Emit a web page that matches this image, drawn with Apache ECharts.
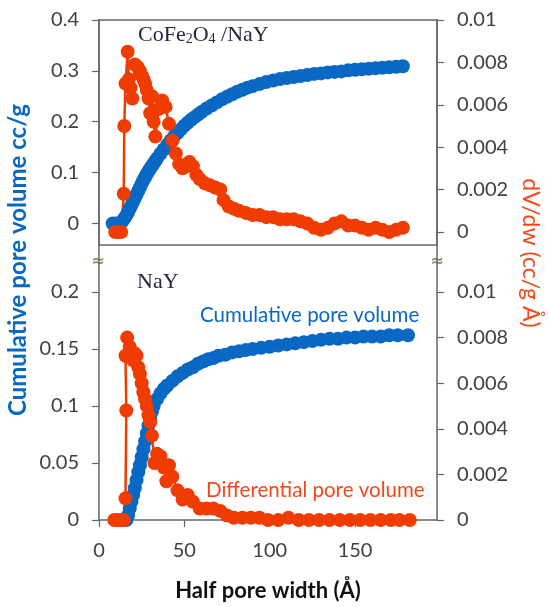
<!DOCTYPE html>
<html>
<head>
<meta charset="utf-8">
<script src="https://cdn.jsdelivr.net/npm/echarts@6/dist/echarts.min.js"></script>
<style>
html,body{margin:0;padding:0;background:#fff;}
#chart{width:549px;height:607px;}
</style>
</head>
<body>
<div id="chart"></div>
<script>
// ---------- Data ----------
// Top panel: CoFe2O4/NaY
var topCumWidth = [8, 10, 12, 13, 14, 15, 16, 17, 18, 19, 20, 21, 22, 23, 24, 25, 26, 27, 28, 29, 30, 31, 32, 33, 34, 36, 38, 40, 42, 44, 46, 48, 50, 52, 54, 56, 58, 60, 63, 66, 69, 72, 75, 78, 81, 84, 87, 90, 94, 98, 102, 106, 110, 114, 118, 122, 126, 130, 134, 138, 142, 146, 150, 154, 158, 162, 166, 170, 174, 178];
var topCumVolume = [0, 0, 0, 0.002, 0.006, 0.011, 0.016, 0.022, 0.029, 0.036, 0.043, 0.05, 0.057, 0.064, 0.071, 0.078, 0.085, 0.091, 0.097, 0.103, 0.108, 0.113, 0.118, 0.123, 0.128, 0.137, 0.146, 0.155, 0.163, 0.171, 0.178, 0.185, 0.192, 0.198, 0.204, 0.209, 0.214, 0.219, 0.226, 0.232, 0.238, 0.244, 0.249, 0.254, 0.259, 0.263, 0.267, 0.27, 0.274, 0.278, 0.281, 0.284, 0.286, 0.288, 0.29, 0.292, 0.294, 0.295, 0.297, 0.298, 0.299, 0.301, 0.302, 0.303, 0.304, 0.305, 0.306, 0.307, 0.308, 0.309];
var topDiffWidth = [9.5, 11, 13, 14.5, 14.8, 15.5, 16.8, 17.5, 18.5, 19.5, 21, 22.5, 24, 25, 26, 27, 28, 29, 30, 31, 32, 33, 35, 37, 39, 41, 43, 45, 47, 49, 51, 53, 55, 57, 59, 62, 65, 68, 71, 73, 76, 79, 82, 86, 90, 94, 98, 102, 106, 110, 114, 118, 122, 126, 130, 134, 138, 142, 146, 150, 154, 158, 162, 166, 170, 174, 178];
var topDiffValue = [0, 0, 0, 0.0018, 0.005, 0.007, 0.0085, 0.0072, 0.0068, 0.0063, 0.0079, 0.0078, 0.0076, 0.0074, 0.0072, 0.007, 0.0067, 0.0063, 0.0056, 0.0064, 0.0052, 0.0045, 0.0058, 0.0062, 0.0059, 0.0051, 0.0043, 0.0037, 0.0032, 0.003, 0.0031, 0.0033, 0.0031, 0.0027, 0.0025, 0.0023, 0.0022, 0.0021, 0.002, 0.0015, 0.0012, 0.0011, 0.001, 0.0009, 0.0008, 0.0008, 0.0007, 0.0007, 0.0006, 0.0006, 0.0006, 0.0005, 0.0004, 0.0002, 0.0001, 0.0002, 0.0004, 0.0005, 0.0003, 0.0003, 0.0002, 0.0001, 0.0002, 0.0001, 0, 0.0001, 0.0002];

// Bottom panel: NaY
var botCumWidth = [16, 17, 18, 19, 20, 21, 22, 23, 24, 25, 26, 27, 28, 29, 30, 31, 32, 34, 36, 38, 40, 43, 46, 49, 52, 55, 58, 61, 64, 67, 70, 74, 78, 82, 86, 90, 95, 100, 105, 110, 115, 120, 125, 130, 135, 140, 145, 150, 155, 160, 165, 170, 175, 181];
var botCumVolume = [0, 0.004, 0.01, 0.016, 0.022, 0.028, 0.035, 0.042, 0.048, 0.055, 0.062, 0.069, 0.076, 0.083, 0.089, 0.095, 0.1, 0.106, 0.111, 0.115, 0.118, 0.122, 0.126, 0.129, 0.132, 0.134, 0.137, 0.139, 0.141, 0.142, 0.144, 0.145, 0.147, 0.148, 0.149, 0.15, 0.151, 0.152, 0.153, 0.154, 0.155, 0.156, 0.157, 0.158, 0.159, 0.159, 0.16, 0.16, 0.161, 0.161, 0.161, 0.162, 0.162, 0.162];
var botDiffWidth = [9, 11, 13, 14.5, 15.5, 16, 15.5, 16.5, 18, 19, 20, 21, 22, 23, 24, 25, 26, 27, 28, 29, 30, 31, 32.5, 34, 36, 38, 39.5, 41, 43, 46, 49, 52, 55, 59, 63, 67, 71, 75, 79, 84, 89, 94, 99, 105, 111, 117, 123, 129, 135, 141, 147, 153, 159, 165, 171, 176, 182];
var botDiffValue = [0, 0, 0, 0, 0.00095, 0.0048, 0.0072, 0.008, 0.0076, 0.0072, 0.007, 0.0073, 0.0072, 0.0067, 0.0064, 0.006, 0.0056, 0.0053, 0.005, 0.0046, 0.0043, 0.0037, 0.0025, 0.0029, 0.0028, 0.0023, 0.0017, 0.0024, 0.0019, 0.0013, 0.0009, 0.0011, 0.0008, 0.0005, 0.0005, 0.0005, 0.0004, 0.0002, 0.0001, 0.0001, 0.0001, 0.0001, 0, 0, 0.0001, 0, 0, 0, 0, 0, 0, 0, 0, 0, 0, 0, 0];

// Tick labels
var xTicks = [0, 50, 100, 150];
var topLeftTicks = [0, 0.1, 0.2, 0.3, 0.4];
var topRightTicks = [0, 0.002, 0.004, 0.006, 0.008, 0.01];
var botLeftTicks = [0, 0.05, 0.1, 0.15, 0.2];
var botRightTicks = [0, 0.002, 0.004, 0.006, 0.008, 0.01];

function zip(a, b) { return a.map(function (v, i) { return [v, b[i]]; }); }

var BLUE = '#0868C4';
var ORANGE = '#F03C00';
var AXIS = '#666666';
var LABEL = '#404040';
var FONT = 'Lato, "Open Sans", sans-serif';
var SERIF = '"Liberation Serif", "DejaVu Serif", serif';

function fmt(v) { return String(+(+v).toFixed(4)); }

function yAxisCfg(grid, pos, min, max, ticks) {
  return {
    type: 'value', gridIndex: grid, position: pos, min: min, max: max,
    axisLine: { show: true, onZero: false, lineStyle: { color: AXIS, width: 1.5 } },
    axisTick: { show: true, customValues: ticks, length: 7, lineStyle: { color: AXIS, width: 1.2 } },
    axisLabel: { show: true, customValues: ticks, margin: 20, color: LABEL, fontSize: 20, fontFamily: FONT, formatter: fmt },
    splitLine: { show: false }
  };
}

var chart = echarts.init(document.getElementById('chart'), null, { renderer: 'canvas' });
chart.setOption({
  animation: false,
  backgroundColor: '#ffffff',
  grid: [
    { left: 99, top: 20, width: 338, height: 225, show: true, borderColor: AXIS, borderWidth: 1.5, backgroundColor: 'transparent' },
    { left: 99, top: 245, width: 338, height: 275 }
  ],
  xAxis: [
    { type: 'value', gridIndex: 0, min: 0, max: 198, show: false },
    {
      type: 'value', gridIndex: 1, min: 0, max: 198,
      axisLine: { show: true, onZero: false, lineStyle: { color: AXIS, width: 1.5 } },
      axisTick: { show: true, customValues: xTicks, length: 7, lineStyle: { color: AXIS, width: 1.2 } },
      axisLabel: { show: true, customValues: xTicks, margin: 21, color: LABEL, fontSize: 20, fontFamily: FONT, formatter: fmt },
      splitLine: { show: false },
      name: 'Half pore width (Å)', nameLocation: 'middle', nameGap: 60,
      nameTextStyle: { color: '#111', fontSize: 22, fontWeight: 'bold', fontFamily: FONT }
    }
  ],
  yAxis: [
    yAxisCfg(0, 'left', -0.0423, 0.4, topLeftTicks),
    yAxisCfg(0, 'right', -0.000615, 0.01, topRightTicks),
    yAxisCfg(1, 'left', 0, 0.2412, botLeftTicks),
    yAxisCfg(1, 'right', 0, 0.01206, botRightTicks)
  ],
  series: [
    { type: 'line', xAxisIndex: 0, yAxisIndex: 0, data: zip(topCumWidth, topCumVolume), symbol: 'circle', symbolSize: 14, showAllSymbol: true, clip: false,
      itemStyle: { color: BLUE }, lineStyle: { color: BLUE, width: 2 } },
    { type: 'line', xAxisIndex: 0, yAxisIndex: 1, data: zip(topDiffWidth, topDiffValue), symbol: 'circle', symbolSize: 14, showAllSymbol: true, clip: false,
      itemStyle: { color: ORANGE }, lineStyle: { color: ORANGE, width: 2.5 } },
    { type: 'line', xAxisIndex: 1, yAxisIndex: 2, data: zip(botCumWidth, botCumVolume), symbol: 'circle', symbolSize: 14, showAllSymbol: true, clip: false,
      itemStyle: { color: BLUE }, lineStyle: { color: BLUE, width: 2 } },
    { type: 'line', xAxisIndex: 1, yAxisIndex: 3, data: zip(botDiffWidth, botDiffValue), symbol: 'circle', symbolSize: 14, showAllSymbol: true, clip: false,
      itemStyle: { color: ORANGE }, lineStyle: { color: ORANGE, width: 2.5 } }
  ],
  graphic: [
    { type: 'text', x: 18, y: 260, rotation: Math.PI / 2,
      style: { text: 'Cumulative pore volume cc/g', fill: BLUE, font: 'bold 24px ' + FONT, textAlign: 'center', textVerticalAlign: 'middle' } },
    { type: 'text', x: 530, y: 253, rotation: -Math.PI / 2,
      style: { text: 'dV/dw (cc/g Å)', fill: '#F5481A', font: '23px ' + FONT, textAlign: 'center', textVerticalAlign: 'middle' } },
    { type: 'text', x: 138, y: 35,
      style: { text: '{n|CoFe}{s|2}{n|O}{s|4}{n| /NaY}', textVerticalAlign: 'middle',
        rich: { n: { fontFamily: SERIF, fontSize: 22, fill: '#2a2440', color: '#2a2440' },
                s: { fontFamily: SERIF, fontSize: 14, fill: '#2a2440', color: '#2a2440', padding: [9, 0, 0, 0] } } } },
    { type: 'text', x: 137, y: 282,
      style: { text: 'NaY', fill: '#2a2440', font: '22px ' + SERIF, textVerticalAlign: 'middle' } },
    { type: 'text', x: 200, y: 315,
      style: { text: 'Cumulative pore volume', fill: BLUE, font: '20.5px ' + FONT, textVerticalAlign: 'middle' } },
    { type: 'text', x: 206, y: 490,
      style: { text: 'Differential pore volume', fill: '#F5481A', font: '20.5px ' + FONT, textVerticalAlign: 'middle' } },
    { type: 'text', x: 98, y: 262,
      style: { text: '≈', fill: '#9a8660', font: 'bold 16px "DejaVu Sans"', textAlign: 'center', textVerticalAlign: 'middle' } },
    { type: 'text', x: 437, y: 262,
      style: { text: '≈', fill: '#9a8660', font: 'bold 16px "DejaVu Sans"', textAlign: 'center', textVerticalAlign: 'middle' } }
  ]
});
</script>
</body>
</html>
